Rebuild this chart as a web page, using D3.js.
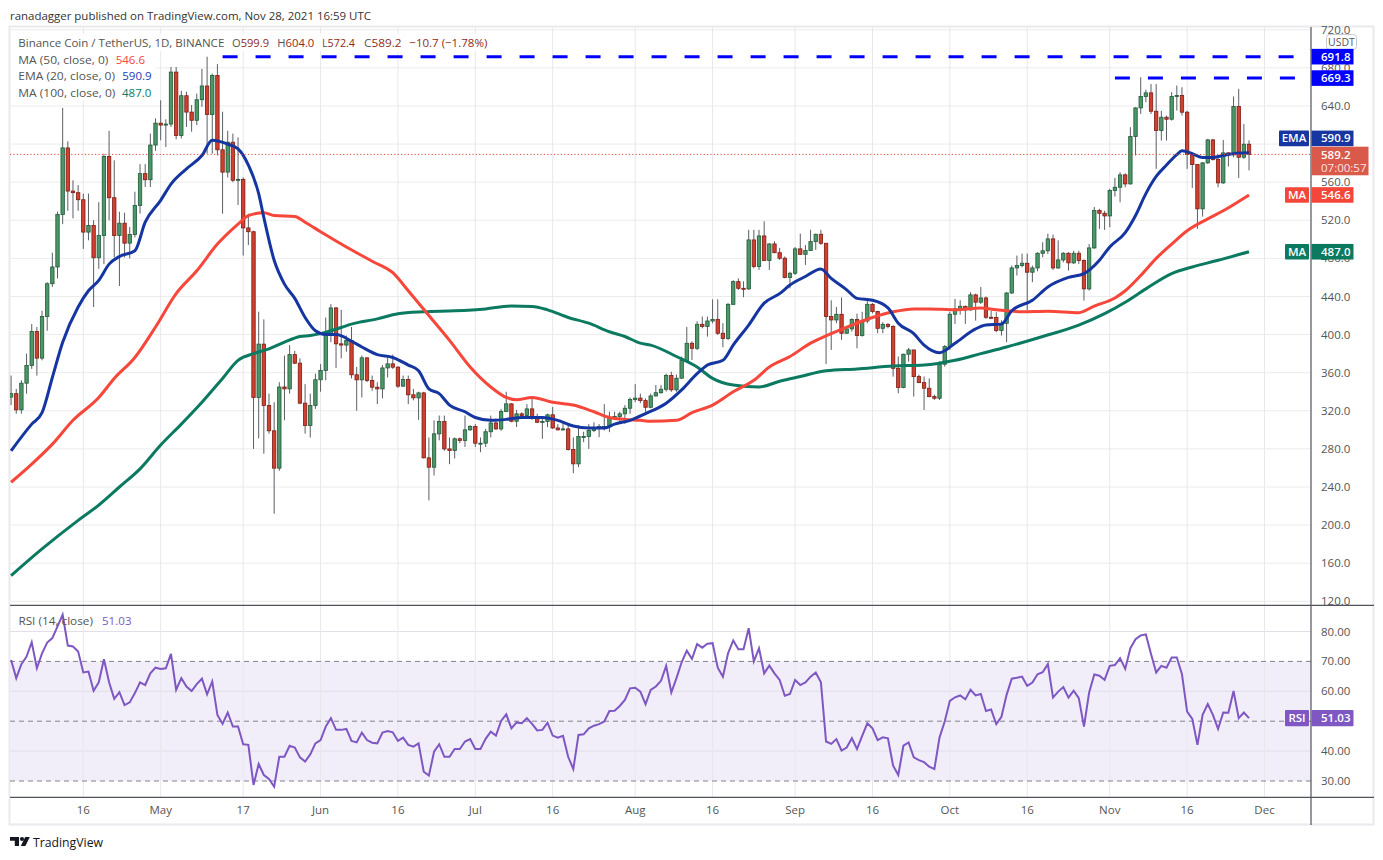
<!DOCTYPE html>
<html><head><meta charset="utf-8">
<script src="https://cdn.jsdelivr.net/npm/d3@7"></script>
<style>body{margin:0;background:#fff;} svg{display:block;}</style>
</head><body><svg id="c" width="1383" height="860"></svg>
<script>
// ---------------- DATA ----------------
const startDate = "2021-04-02";
const firstOpen = 334.4;
const closes = [
338,321,349,367.6,403.3,375.3,419,453.4,471,526,
596,550.7,549,541.6,507.6,514.6,480.7,504,587,543.7,
504,517,496,505,535.6,569,562.6,599,622,620,
621,675.6,609,650.8,633.6,625,646.6,661,631,672,
594,570.6,602,562,563,512,508,334,390,325.6,
299,259.8,345,343,379,370,328,304.6,325.6,352.6,
362.3,400.8,428,390.3,389,393.8,357.8,352.5,375.6,351.8,
344.8,343,365,369.3,365.8,345.9,352.8,336.8,333.6,338.8,
270.6,260.8,295.8,308.7,280,278.3,290.6,288.8,300,303.5,
286,286,298,307.3,301,319.3,327.3,309,316.8,315,
322,313.3,308,308.8,315.8,302,300,301,279.3,264.3,
293,293,299.3,302,303.5,303.5,312.6,314,316.8,322.7,
331.8,333.3,330.7,323.7,335.6,339,342.6,357,342,354.2,
372.7,390.9,385.6,410.8,408.4,414.3,416,401.4,396,431.8,
455.6,448.6,448,499.4,471.4,503.6,477.7,495.2,486,480.2,
459.9,464.4,490,484.3,488.2,497.6,505.3,495.9,418.9,415.4,
421.3,401.4,406,416,399,414.3,431.8,424.2,406.6,410.8,
408.4,364.6,344.4,379.4,383.9,355.9,349.6,343.7,334.9,333.2,
368.9,387.4,421.4,427,429.7,425.9,441.7,434,438.5,418.2,
418,404.2,411.9,443.7,470,472.5,474.9,465.5,470,485.4,
488,500.5,470,478.4,485.4,475.3,485.4,477.7,448,491,
530.2,527.4,524.6,551.2,554.7,567.7,558.2,607.9,638,649.9,
653.8,634.5,614.2,628.2,626.1,649.9,651,633.5,589,578.5,
532,580.3,604.4,583.8,559.3,590.8,588.7,639.4,586.2,599.9,589.2];
const highs = [
357,343,352,380,411,408,425,455,486,529,
638,603,562,557,548,548,520,539,590,614,
583,529,528,513,550,579,579,611,627,646,
626,681,681,656,655,641,653,679,691.8,674,
684,634,614,611,607,565,527,509,424,416,
338,329,350,378,389,383,375,348,338,359,
369,418,432,429,426,399,408,366,378,376,
357,350,368,376,379,367,357,357,343,340,
340,292,310,315,315,292,292,292,315,305,
306,292,301,315,312,322,340,328,321,318.5,
327,334,317,313,317,324,306,308,305,292,
305,298,306,308,306,327,319,319,319,326,
334,348,338,333,338,347,347,359,361,358,
377,408,393,414,419,419,437,437,412,433,
457,459,456,510,510,510,519,496,498,491,
482,466,492,506,494,510,506,510,496,436,
429,439,408,417,422,424,436,433,425,413,
412,410,377,380,386,384,358,356,354,337,
372,389,424,437.5,436,430.5,444.5,443,450,440,
425,423.5,415,444.5,472.5,483,485,485,472.5,486.5,
497,506,505,499,486.5,486.5,488,488,479,495,
534,532,530,553,564.5,570.5,569.4,617.7,638.7,670.2,
657,663,663,635,630,654.5,661.5,659.7,635,590.4,
577.5,581,605.5,605.5,586,604.4,591.5,650,658,621,604];
const lows = [
326,317,317,338,364,357,373,404,450,459,
516,530,522,530,490,499,429,469,474,520,
481,451,481,480,502,527,555,555,593,604,
597,618,605,606,618,613,620,639,590,590,
588,527,565,560,536,483,494,280,291,275,
296,212,257,310,338,369,327,296,292,322,
340,352,392,365,375,382,354,320,334,350,
341,327,333,355,364,344,345,327,331,310.5,
270,226,252,289,278,264,270,286,282,299,
282,276.5,282,292,300,299,318.6,308,303,313.3,
313,310.5,307,290.6,302.8,301,299.3,299.3,278.3,254.5,
260.8,287,280,297.6,292.3,299.3,297.6,311.6,306.3,306.3,
316.8,329,328,319,322.7,335,338,340.2,340,340,
354,371.7,373.4,383.9,406.6,397.9,411.9,399.6,386.7,394.4,
431.1,446.9,439.2,446.9,469.6,467.9,477.7,467.9,485.4,478.4,
459.2,448.6,462.7,483.6,473.2,488,488.9,494.1,369.2,383.9,
411.9,394.4,400.7,403.1,385.6,397.9,411.9,422.4,401.4,401.4,
406.6,355.9,338.4,343.7,371.7,334.9,348.9,320.9,334.2,331.4,
331.4,366.4,383.9,411.2,421,411.2,425.2,414.7,432.2,416.5,
416.5,402.5,399,392,442.7,462,470.7,425.2,455,466.5,
481.2,484.7,467.9,469,475.9,467.2,474.2,474.2,435.7,446.2,
490,511,509.9,512.7,544.9,538.9,554.7,557.5,588,631.7,
644,631.7,574,603.7,603.7,624.7,635.2,630,574,554,
511,523.9,579.2,582.7,554.7,558.2,576.4,586.2,564.5,584.5,572.4];

// moving averages: [day index since start, value]
const ema20 = [[0,278],[4,306],[6,318],[8,355],[10,392],[13,429],[15,446],[17,457],[19,474],[21,482],[24,488],[26,518],[29,541],[31,558],[34,574],[37,588],[39,604],[42,600],[44,595],[46,578],[48,548],[49,523],[51,478],[53,453],[55,438],[57,418],[59,404],[61,400],[63,400],[66,393],[68,387],[71,379],[74,376],[77,368],[79,362],[81,343],[83,338],[85,326],[88,319],[90,313],[93,310],[96,311],[99,313],[103,313],[106,310],[109,304],[112,302],[115,302],[117,306],[120,310],[123,317],[127,328],[130,342],[133,359],[135,368],[138,373],[140,389],[143,410],[146,433],[149,443],[151,452],[154,461],[157,469],[159,459],[162,447],[164,438],[167,436],[170,428],[172,412],[175,401],[177,389],[180,381],[183,391],[187,406],[189,410],[192,411],[194,425],[198,436],[201,450],[205,460],[208,464],[211,478],[213,492],[216,507],[218,525],[220,548],[222,566],[224,578],[226,589],[227,593],[229,590],[231,586],[233,586],[235,588],[237,590],[240,590.9]];
const ma50 = [[0,245],[4,264],[8,285],[12,310],[17,334],[20,354],[24,376],[28,408],[32,443],[36,467],[40,495],[44,516],[46,525],[49,528],[51,525],[55,524],[57,518],[60,508],[65,492],[70,477],[74,465],[77,446],[81,420],[85,394],[89,366],[93,345],[96,334],[98,331.5],[101,334],[105,329],[109,326],[113,319],[116,313],[119,311],[122,310],[124,309],[129,310],[132,318],[136,326],[140,340],[144,352],[147,366],[151,377],[155,391],[159,401],[163,410],[167,418],[171,424],[175,427],[178,427],[183,426],[188,428],[191,426],[196,424],[201,424.5],[207,423],[210,430],[214,438.5],[216,446],[219,462],[222,480],[225,495],[228,509],[232,521.5],[235,530],[240,546.6]];
const ma100 = [[0,147],[6,175],[13,205],[17,221],[21,240],[25,259],[29,284],[33,306],[37,329],[41,354],[44,373],[47,380],[50,385],[53,392],[56,398],[58,399],[60,401],[62,404],[66,411],[71,416.5],[75,422],[80,424],[86,425],[92,427],[97,430],[101,429.5],[104,426],[108,418],[112,412],[116,403],[119,398],[122,391],[124,389],[129,377],[133,366],[136,354],[140,347],[145,345],[149,351],[153,356],[158,362],[164,364],[171,367],[177,368],[183,373],[188,380],[193,387],[200,398],[207,410],[212,422],[216,434],[220,448],[225,464],[229,471],[234,478],[240,487]];

const rsi = [
70.5,64.4,69.1,71.6,76.4,67.7,72.7,76.3,77.8,81.7,
85.6,75.3,75.0,73.3,66.3,66.6,60.2,63.0,70.7,63.0,
57.5,59.7,55.4,56.3,59.4,63.0,62.1,66.0,67.9,67.5,
67.7,72.5,60.5,64.4,61.6,60.1,62.4,64.2,59.0,63.3,
52.1,49.1,52.9,48.2,48.2,42.3,42.1,28.7,35.7,32.0,
30.7,28.1,38.1,38.1,41.8,41.2,37.9,36.5,38.9,42.6,
43.7,48.2,51.0,47.1,47.1,47.4,43.4,42.9,46.2,43.7,
42.8,42.6,46.2,46.7,46.3,43.4,44.5,42.1,41.5,42.6,
33.1,31.8,39.8,42.3,38.1,38.1,40.7,40.7,43.2,44.0,
40.7,40.7,44.1,46.5,45.2,50.1,52.3,47.6,49.6,49.3,
51.0,49.1,46.9,47.1,49.5,45.2,44.5,45.1,38.1,34.0,
45.4,45.6,47.6,48.5,49.0,49.9,53.4,53.5,55.1,57.1,
61.0,61.2,59.9,55.7,60.5,61.6,63.5,68.5,59.6,64.4,
69.7,73.6,70.8,75.8,74.6,75.9,76.1,67.9,64.9,72.7,
77.0,74.1,74.1,81.1,70.0,74.4,66.0,68.6,66.0,63.8,
58.5,59.1,63.8,62.1,63.0,64.9,66.3,63.0,43.2,42.4,
44.0,40.2,41.2,44.3,40.7,45.1,49.3,47.6,43.7,44.6,
44.3,35.1,32.0,41.8,42.9,37.9,37.0,36.3,34.8,34.0,
44.6,49.9,56.8,58.0,58.6,57.3,60.5,58.6,59.1,53.4,
53.9,49.0,51.5,58.8,64.2,64.5,64.9,61.8,62.9,65.7,
66.4,69.1,57.9,59.9,61.4,57.9,60.2,57.7,48.2,59.6,
65.6,65.2,63.8,68.5,68.8,71.1,67.5,74.4,77.4,78.7,
79.0,72.5,66.3,68.5,67.9,71.3,71.3,65.7,53.2,50.8,
42.1,52.1,55.7,52.1,47.4,52.9,52.8,60.1,51.0,52.9,51.03];

const priceTicks = [120,160,200,240,280,320,360,400,440,480,520,560,600,640,680,720];
const priceTickLabels = ["120.0","160.0","200.0","240.0","280.0","320.0","360.0","400.0","440.0","480.0","520.0","560.0","","640.0","680.0","720.0"];
const rsiTicks = [30,40,60,70,80];
const rsiGrid = [40,60,80];
const rsiLevels = [30,50,70];
const timeTicks = ["2021-04-16","2021-05-01","2021-05-17","2021-06-01","2021-06-16","2021-07-01","2021-07-16","2021-08-01","2021-08-16","2021-09-01","2021-09-16","2021-10-01","2021-10-16","2021-11-01","2021-11-16","2021-12-01"];
const timeTickLabels = ["16","May","17","Jun","16","Jul","16","Aug","16","Sep","16","Oct","16","Nov","16","Dec"];
const levels = [{start:"2021-05-13", value:691.8},{start:"2021-11-02", value:669.3}];
const last = {open:599.9, high:604.0, low:572.4, close:589.2, change:"−10.7 (−1.78%)", ma50:546.6, ema20:590.9, ma100:487.0, rsi:51.03, countdown:"07:00:57"};

// ---------------- SCALES ----------------
const FONT = "'Open Sans','Noto Sans',sans-serif";
const svg = d3.select("#c").style("font-family", FONT);
const L = 10, R = 1311, PT = 27, PB = 605.3, RB = 797.3, FR = 1374, FB = 825;
const parse = d3.utcParse("%Y-%m-%d");
const t0 = parse(startDate);
const dayDate = i => d3.utcDay.offset(t0, i);
const x = d3.scaleUtc().domain([parse("2021-04-16"), parse("2021-12-01")]).range([83.3, 1264.5]);
const y = d3.scaleLinear().domain([120, 720]).range([601.3, 29.8]);
const yr = d3.scaleLinear().domain([30, 80]).range([781, 631.5]);

svg.append("rect").attr("width",1383).attr("height",860).attr("fill","#fff");

// helper for text with fixed rendered width
function fitText(g, str, px, py, w, fill, size){
  return g.append("text").attr("x",px).attr("y",py).attr("fill",fill).attr("font-size",size||11.6)
    .attr("textLength",w).attr("lengthAdjust","spacingAndGlyphs").text(str);
}

// title
fitText(svg, "ranadagger published on TradingView.com, Nov 28, 2021 16:59 UTC", 10, 19.5, 361, "#333", 11.6);

// frame
svg.append("rect").attr("x",L-0.5).attr("y",PT-0.5).attr("width",FR-L).attr("height",FB-PT)
  .attr("fill","none").attr("stroke","#e9e9ee").attr("stroke-width",2);

const defs = svg.append("defs");
defs.append("clipPath").attr("id","cp").append("rect").attr("x",L).attr("y",PT).attr("width",R-L).attr("height",PB-PT);
defs.append("clipPath").attr("id","cr").append("rect").attr("x",L).attr("y",PB).attr("width",R-L).attr("height",RB-PB);

// RSI band
svg.append("rect").attr("x",L).attr("width",R-L).attr("y",yr(70)).attr("height",yr(30)-yr(70)).attr("fill","#f1edf9");
// grid
svg.append("g").selectAll("line").data(priceTicks).join("line")
  .attr("x1",L).attr("x2",R).attr("y1",d=>y(d)).attr("y2",d=>y(d))
  .attr("stroke","#ececec").attr("stroke-width",1);
svg.append("g").selectAll("line").data(rsiGrid).join("line")
  .attr("x1",L).attr("x2",R).attr("y1",d=>yr(d)).attr("y2",d=>yr(d))
  .attr("stroke","#e2dfe8").attr("stroke-width",1);
svg.append("g").selectAll("line").data(timeTicks).join("line")
  .attr("x1",d=>x(parse(d))).attr("x2",d=>x(parse(d))).attr("y1",PT).attr("y2",RB)
  .attr("stroke","#e8e8ec").attr("stroke-width",1);
svg.append("g").selectAll("line").data(rsiLevels).join("line")
  .attr("x1",L).attr("x2",R).attr("y1",d=>yr(d)).attr("y2",d=>yr(d))
  .attr("stroke","#85818f").attr("stroke-width",1).attr("stroke-dasharray","5,4");

// ---------------- CANDLES ----------------
const candles = closes.map((c,i)=>({i, date:dayDate(i), o: i===0?firstOpen:closes[i-1], c, h:highs[i], l:lows[i]}));
const cg = svg.append("g").attr("clip-path","url(#cp)");
const bw = 3.4;
cg.selectAll(".wick").data(candles).join("line")
  .attr("x1",d=>x(d.date)).attr("x2",d=>x(d.date))
  .attr("y1",d=>y(Math.max(d.h,d.o,d.c))).attr("y2",d=>y(Math.min(d.l,d.o,d.c)))
  .attr("stroke","#5b5e66").attr("stroke-width",1);
cg.selectAll(".body").data(candles).join("rect")
  .attr("x",d=>x(d.date)-bw/2).attr("width",bw)
  .attr("y",d=>y(Math.max(d.o,d.c)))
  .attr("height",d=>Math.max(1, Math.abs(y(d.o)-y(d.c))))
  .attr("fill",d=>d.c>=d.o?"#4c9668":"#cf4030")
  .attr("stroke",d=>d.c>=d.o?"#1f5a38":"#7c1c13").attr("stroke-width",0.8);

// MA lines
const lineGen = d3.line().x(d=>x(dayDate(d[0]))).y(d=>y(d[1])).curve(d3.curveMonotoneX);
const mg = svg.append("g").attr("clip-path","url(#cp)");
mg.append("path").datum(ma100).attr("d",lineGen).attr("fill","none").attr("stroke","#0b7a60").attr("stroke-width",3);
mg.append("path").datum(ma50).attr("d",lineGen).attr("fill","none").attr("stroke","#f7473a").attr("stroke-width",3);
mg.append("path").datum(ema20).attr("d",lineGen).attr("fill","none").attr("stroke","#1536a0").attr("stroke-width",3);

// last price dotted line
svg.append("line").attr("x1",L).attr("x2",R).attr("y1",y(last.close)).attr("y2",y(last.close))
  .attr("stroke","#e0483b").attr("stroke-width",1).attr("stroke-dasharray","1.2,2.2");

// resistance levels
svg.append("g").selectAll("line").data(levels).join("line")
  .attr("x1",d=>x(parse(d.start))).attr("x2",R).attr("y1",d=>y(d.value)).attr("y2",d=>y(d.value))
  .attr("stroke","#0000ff").attr("stroke-width",3).attr("stroke-dasharray","15,18");

// RSI line
const rl = d3.line().x((d,i)=>x(dayDate(i))).y(d=>yr(d));
svg.append("path").datum(rsi).attr("clip-path","url(#cr)").attr("d",rl)
  .attr("fill","none").attr("stroke","#7e57c2").attr("stroke-width",2);

// axes lines
const ax = svg.append("g").attr("stroke","#50535e").attr("stroke-width",1.2);
ax.append("line").attr("x1",R).attr("x2",R).attr("y1",PT).attr("y2",FB);
ax.append("line").attr("x1",L).attr("x2",FR).attr("y1",PB).attr("y2",PB);
ax.append("line").attr("x1",L).attr("x2",FR).attr("y1",RB).attr("y2",RB);

// axis labels
const labFill = "#555";
svg.append("g").selectAll("text").data(priceTicks).join("text")
  .attr("x",1321).attr("y",d=>y(d)+4).attr("font-size",11.5).attr("fill",labFill)
  .text((d,i)=>priceTickLabels[i]);
svg.append("g").selectAll("text").data(rsiTicks).join("text")
  .attr("x",1321).attr("y",d=>yr(d)+4).attr("font-size",11.5).attr("fill",labFill)
  .text(d=>d.toFixed(2));
svg.append("g").selectAll("text").data(timeTicks).join("text")
  .attr("x",d=>x(parse(d))).attr("y",814).attr("text-anchor","middle").attr("font-size",11.5).attr("fill",labFill)
  .text((d,i)=>timeTickLabels[i]);

// USDT box
svg.append("rect").attr("x",1326.5).attr("y",34.5).attr("width",30).attr("height",15).attr("rx",3)
  .attr("fill","#fff").attr("stroke","#c9c9cf");
svg.append("text").attr("x",1341.5).attr("y",45.5).attr("text-anchor","middle").attr("font-size",10.5).attr("fill","#555").text("USDT");

// value boxes
function valBox(yc, fill, txt, tag){
  svg.append("rect").attr("x",R+0.5).attr("y",yc-7.8).attr("width",42).attr("height",15.6).attr("fill",fill);
  svg.append("text").attr("x",1321).attr("y",yc+4).attr("font-size",11.5).attr("font-weight",600).attr("fill","#fff").text(txt);
  if(tag){
    svg.append("rect").attr("x",R-2-tag.w).attr("y",yc-7.8).attr("width",tag.w).attr("height",15.6).attr("fill",fill).attr("rx",1);
    svg.append("text").attr("x",R-2-tag.w/2).attr("y",yc+4).attr("text-anchor","middle").attr("font-size",11.5).attr("font-weight",600).attr("fill","#fff").text(tag.t);
  }
}
valBox(y(levels[0].value), "#0000ff", levels[0].value.toFixed(1));
valBox(y(levels[1].value), "#0000ff", levels[1].value.toFixed(1));
// last price box (two lines), EMA label pushed just above it
const lastTop = y(last.close) - 7.7;
valBox(lastTop - 8.3, "#1836a2", last.ema20.toFixed(1), {t:"EMA", w:30});
{
  const yc = y(last.close);
  svg.append("rect").attr("x",R+0.5).attr("y",lastTop).attr("width",57).attr("height",28.6).attr("fill","#d9594b");
  svg.append("text").attr("x",1321).attr("y",yc+4.5).attr("font-size",11.5).attr("font-weight",600).attr("fill","#fff").text(last.close.toFixed(1));
  svg.append("text").attr("x",1321).attr("y",yc+18).attr("font-size",11.5).attr("fill","#fbe3e0").text(last.countdown);
}
valBox(y(last.ma50), "#f4473a", last.ma50.toFixed(1), {t:"MA", w:24});
valBox(y(last.ma100), "#0b7a60", last.ma100.toFixed(1), {t:"MA", w:24});
// RSI box
{
  const yc = yr(last.rsi);
  svg.append("rect").attr("x",R+0.5).attr("y",yc-8.2).attr("width",42).attr("height",16.4).attr("fill","#7e57c2").attr("rx",1);
  svg.append("text").attr("x",1321).attr("y",yc+4).attr("font-size",11.5).attr("font-weight",600).attr("fill","#fff").text(last.rsi.toFixed(2));
  svg.append("rect").attr("x",R-26).attr("y",yc-8.2).attr("width",24).attr("height",16.4).attr("fill","#7e57c2").attr("rx",1);
  svg.append("text").attr("x",R-14).attr("y",yc+4).attr("text-anchor","middle").attr("font-size",11.5).attr("font-weight",600).attr("fill","#fff").text("RSI");
}

// ---------------- LEGEND ----------------
svg.append("rect").attr("x",L+1).attr("y",34).attr("width",480).attr("height",17).attr("fill","#fff").attr("opacity",0.92);
svg.append("rect").attr("x",L+1).attr("y",51).attr("width",145).attr("height",50).attr("fill","#fff").attr("opacity",0.92);
const lg = svg.append("g");
fitText(lg, "Binance Coin / TetherUS, 1D, BINANCE", 18.3, 46.8, 206, "#555");
const ohlcCol = "#8e2b22";
[["O",last.open.toFixed(1),232,37],["H",last.high.toFixed(1),277.3,37],["L",last.low.toFixed(1),322,33],["C",last.close.toFixed(1),364,37.5]].forEach(([k,v,px,w])=>{
  const t = lg.append("text").attr("x",px).attr("y",46.8).attr("font-size",11.6)
    .attr("textLength",w).attr("lengthAdjust","spacingAndGlyphs");
  t.append("tspan").attr("fill","#555").text(k);
  t.append("tspan").attr("fill",ohlcCol).text(v);
});
fitText(lg, last.change, 409.3, 46.8, 78, ohlcCol);
const rows = [["MA (50, close, 0)", last.ma50.toFixed(1), "#f4473a", 63.6, 90, 115.7],
              ["EMA (20, close, 0)", last.ema20.toFixed(1), "#2440b0", 80.3, 96.7, 122.3],
              ["MA (100, close, 0)", last.ma100.toFixed(1), "#0b7a60", 97, 97, 122]];
rows.forEach(([a,b,c,yy,w,vx])=>{
  fitText(lg, a, 18.3, yy, w, "#555");
  fitText(lg, b, vx, yy, 29.3, c);
});
fitText(lg, "RSI (14, close)", 18.4, 625, 74.5, "#555");
fitText(lg, last.rsi.toFixed(2), 102, 625, 29.5, "#7e57c2");

// ---------------- LOGO ----------------
const logo = svg.append("g").attr("fill","#131722");
logo.append("path").attr("d","M10,837 h9 v9 h-4.2 v-5.2 h-4.8 z");
logo.append("circle").attr("cx",22).attr("cy",839).attr("r",2.1);
logo.append("path").attr("d","M25.2,837 h4.6 l-4.4,9 h-4.6 z");
svg.append("text").attr("x",33).attr("y",846.5).attr("font-size",13).attr("fill","#131722").attr("textLength",70).attr("lengthAdjust","spacingAndGlyphs").text("TradingView");
</script>
</body></html>
